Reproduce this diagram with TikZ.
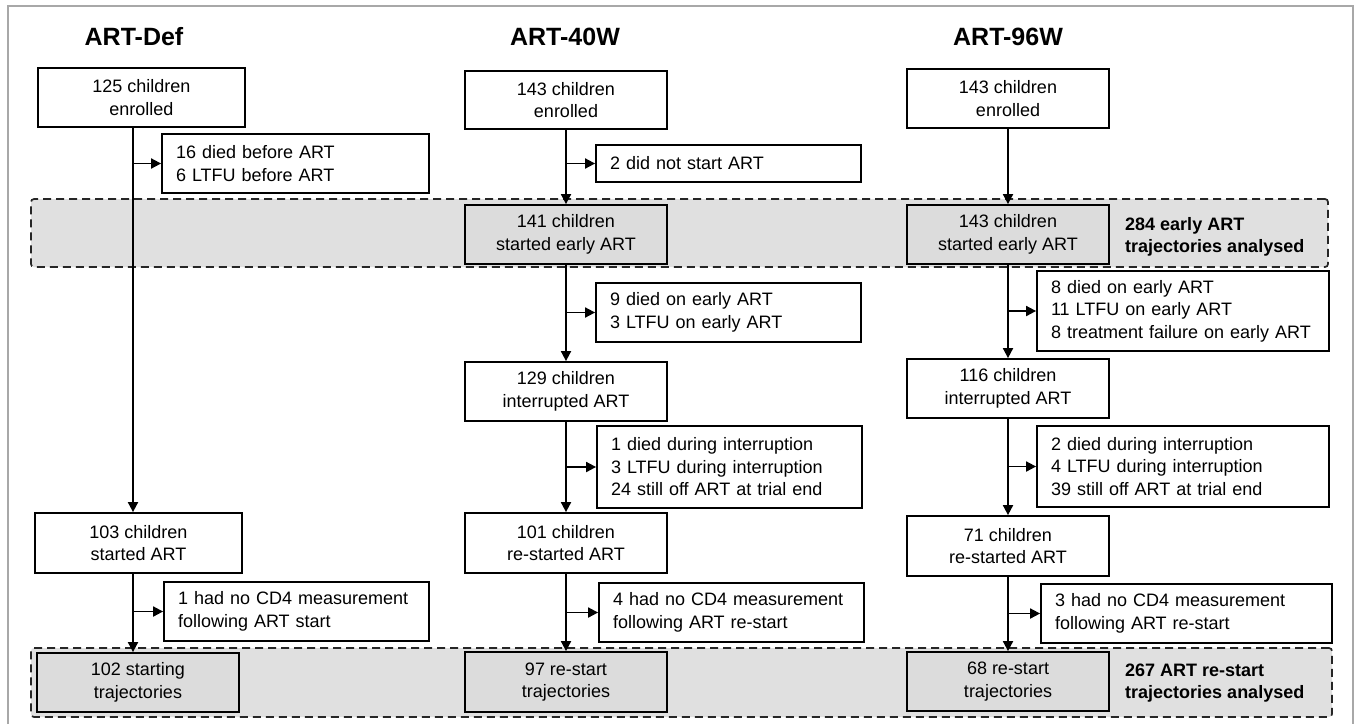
\documentclass[tikz,border=0pt]{standalone}
\usepackage{fontspec}
\setmainfont{Liberation Sans}
\usetikzlibrary{arrows.meta,calc}
\definecolor{bandgray}{HTML}{E0E0E0}
\definecolor{boxgray}{HTML}{DCDCDC}
\definecolor{framegray}{HTML}{A8A8A8}
\newcommand{\txtfont}{\fontsize{18}{22.5}\selectfont}
\begin{document}
\begin{tikzpicture}[x=1pt,y=-1pt,
  box/.style={draw, line width=1.8pt, minimum width=202pt, minimum height=59pt, align=center, inner sep=0pt, font=\txtfont},
  gbox/.style={box, fill=boxgray},
  excl/.style={draw, line width=1.8pt, align=left, inner xsep=14pt, inner ysep=0pt, font=\txtfont},
  band/.style={draw=black!85, fill=bandgray, dash pattern=on 8pt off 5pt, line width=1.7pt, rounded corners=3pt, inner sep=0pt},
  arr/.style={-{Triangle[length=10pt,width=10pt]}, line width=1.8pt},
  title/.style={font=\fontsize{25}{30}\selectfont\bfseries, inner sep=0pt},
  blabel/.style={anchor=west, align=left, inner sep=0pt, font=\txtfont\bfseries}
]
\useasboundingbox (0,0) rectangle (1356,724);
\draw[framegray, line width=1.2pt] (8,724) -- (8,6) -- (1353,6) -- (1353,724);

% bands
\node[band, minimum width=1297pt, minimum height=68pt] (band1) at (679.5,233) {};
\node[band, minimum width=1301pt, minimum height=69pt] (band2) at (681.5,682.5) {};

% titles
\node[title] (h1) at (134,37) {ART-Def};
\node[title] (h2) at (565,37) {ART-40W};
\node[title] (h3) at (1008,37) {ART-96W};

% column 1
\node[box, minimum width=207pt] (a1) at (141.5,97.5) {125 children\\enrolled};
\node[excl, text width=239pt, minimum height=59pt] (e1) at (295.5,163.5) {16 died before ART\\6 LTFU before ART};
\node[box, minimum width=207pt, minimum height=60pt] (b1) at (138.5,543) {103 children\\started ART};
\node[excl, text width=237pt, minimum height=59pt] (e2) at (296.5,611.5) {1 had no CD4 measurement\\following ART start};
\node[gbox] (t1) at (138,682.5) {102 starting\\trajectories};

% column 2
\node[box, minimum height=58pt] (a2) at (566,100) {143 children\\enrolled};
\node[excl, text width=237pt, minimum height=37pt] (e3) at (728.5,163.5) {2 did not start ART};
\node[gbox] (s2) at (566,234.5) {141 children\\started early ART};
\node[excl, text width=237pt, minimum height=59pt] (e4) at (728.5,312.5) {9 died on early ART\\3 LTFU on early ART};
\node[box] (i2) at (566,391.5) {129 children\\interrupted ART};
\node[excl, text width=237pt, minimum height=82pt] (e5) at (729.5,467) {1 died during interruption\\3 LTFU during interruption\\24 still off ART at trial end};
\node[box, minimum height=60pt] (r2) at (566,543) {101 children\\re-started ART};
\node[excl, text width=237pt, minimum height=59pt] (e6) at (731.5,612.5) {4 had no CD4 measurement\\following ART re-start};
\node[gbox, minimum height=60pt] (t2) at (566,682) {97 re-start\\trajectories};

% column 3
\node[box] (a3) at (1008,98.5) {143 children\\enrolled};
\node[gbox] (s3) at (1008,234.5) {143 children\\started early ART};
\node[excl, text width=264pt, minimum height=80pt] (e7) at (1183,311) {8 died on early ART\\11 LTFU on early ART\\8 treatment failure on early ART};
\node[box] (i3) at (1008,388.5) {116 children\\interrupted ART};
\node[excl, text width=264pt, minimum height=81pt] (e8) at (1183,466.5) {2 died during interruption\\4 LTFU during interruption\\39 still off ART at trial end};
\node[box, minimum height=60pt] (r3) at (1008,546) {71 children\\re-started ART};
\node[excl, text width=263pt, minimum height=59pt] (e9) at (1186.5,613.5) {3 had no CD4 measurement\\following ART re-start};
\node[gbox] (t3) at (1008,681.5) {68 re-start\\trajectories};

% band labels
\node[blabel] (l1) at (1125,237) {284 early ART\\trajectories analysed};
\node[blabel] (l2) at (1125,683) {267 ART re-start\\trajectories analysed};

% connectors column 1
\coordinate (c1) at (133,0);
\draw[arr] (a1.south -| c1) -- (b1.north -| c1);
\draw[arr] (c1 |- e1.west) -- (e1.west);
\draw[arr] (b1.south -| c1) -- (t1.north -| c1);
\draw[arr] (c1 |- e2.west) -- (e2.west);

% connectors column 2
\draw[arr] (a2.south) -- (s2.north);
\draw[arr] (a2.south |- e3.west) -- (e3.west);
\draw[arr] (s2.south) -- (i2.north);
\draw[arr] (s2.south |- e4.west) -- (e4.west);
\draw[arr] (i2.south) -- (r2.north);
\draw[arr] (i2.south |- e5.west) -- (e5.west);
\draw[arr] (r2.south) -- (t2.north);
\draw[arr] (r2.south |- e6.west) -- (e6.west);

% connectors column 3
\draw[arr] (a3.south) -- (s3.north);
\draw[arr] (s3.south) -- (i3.north);
\draw[arr] (s3.south |- e7.west) -- (e7.west);
\draw[arr] (i3.south) -- (r3.north);
\draw[arr] (i3.south |- e8.west) -- (e8.west);
\draw[arr] (r3.south) -- (t3.north);
\draw[arr] (r3.south |- e9.west) -- (e9.west);
\end{tikzpicture}
\end{document}
